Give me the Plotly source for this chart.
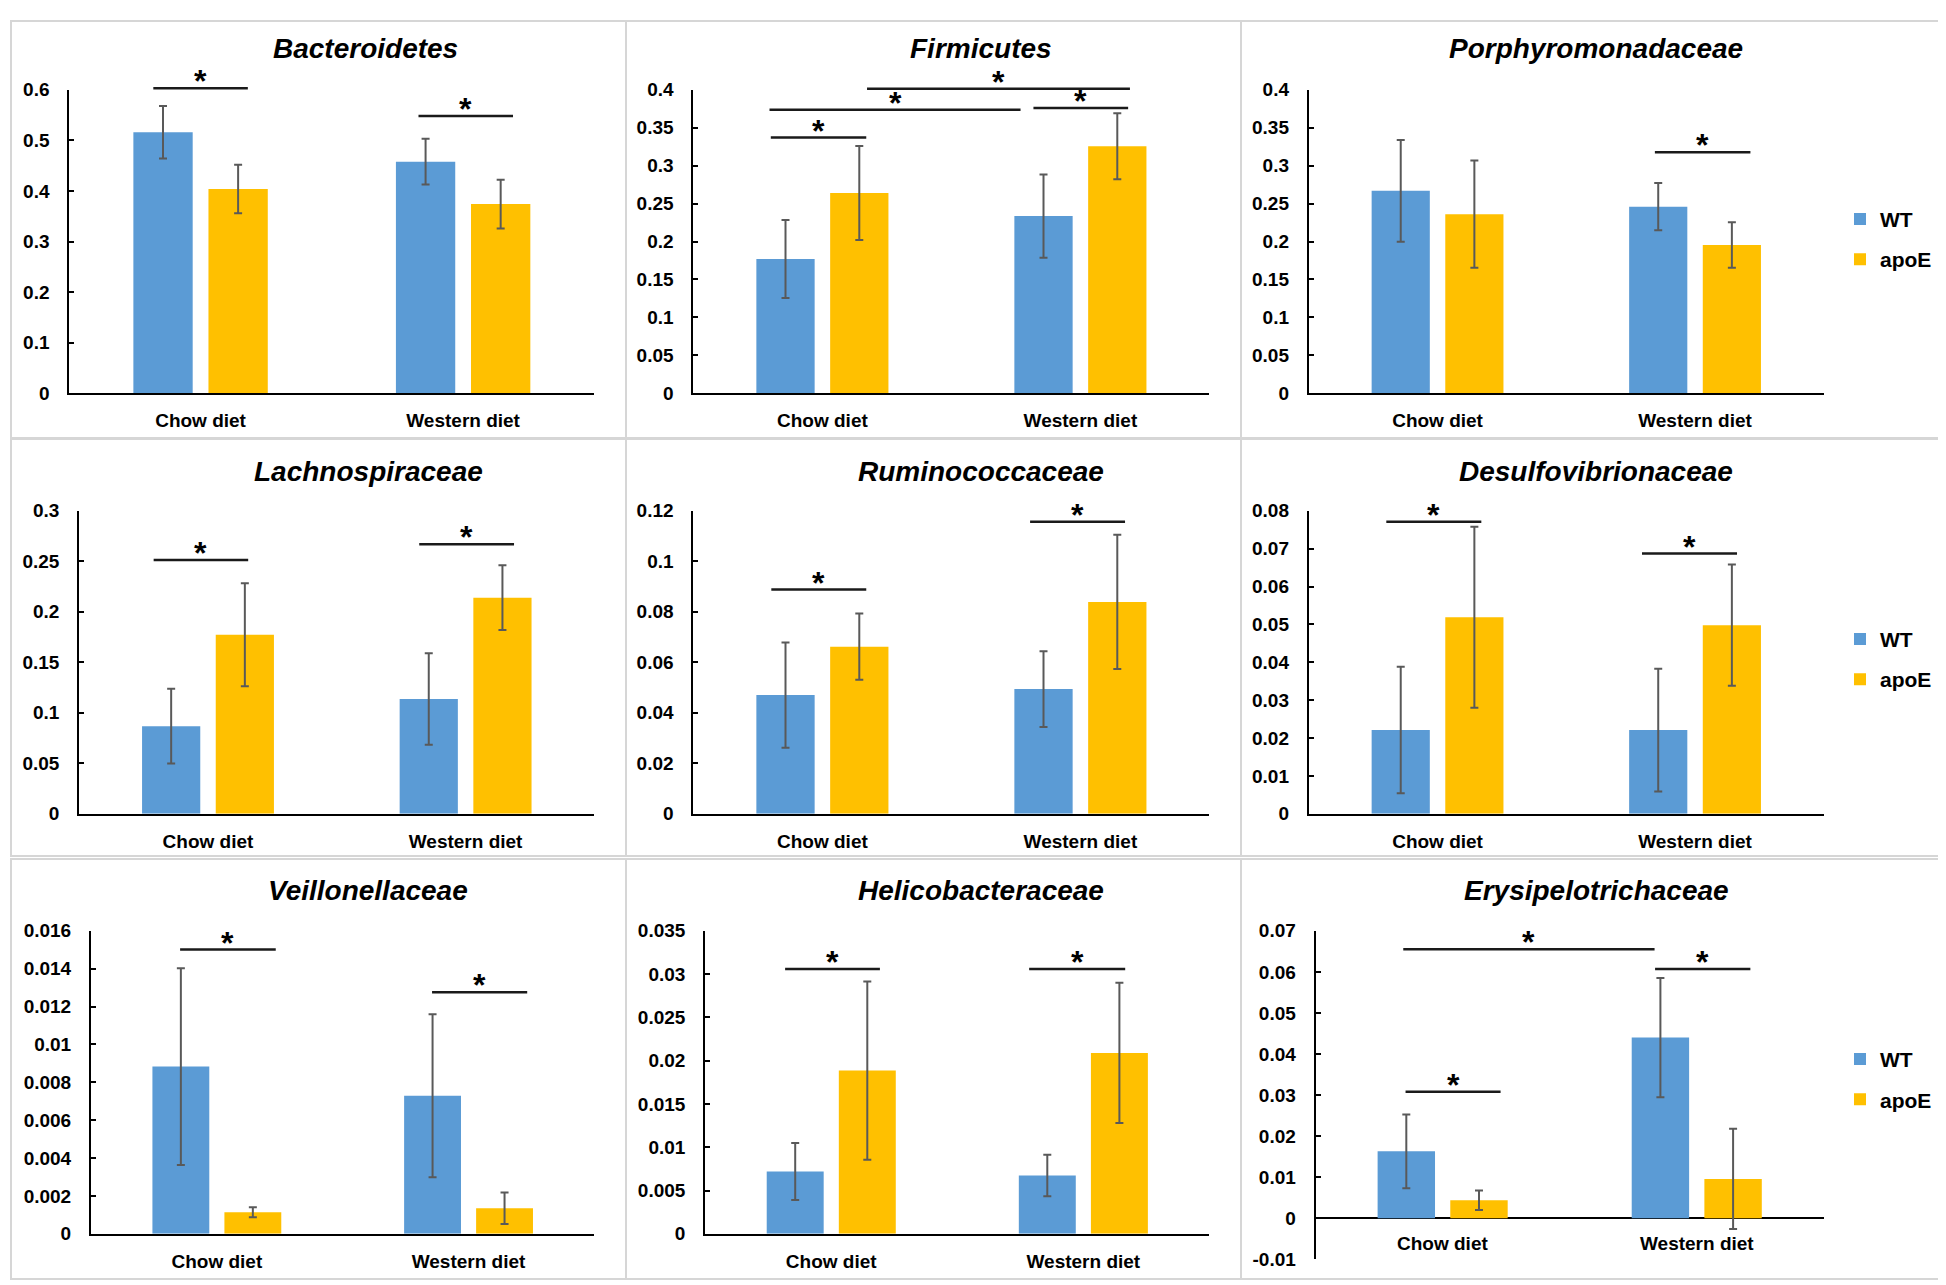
import plotly.graph_objects as go

# ---------------- data ----------------
categories = ["Chow diet", "Western diet"]
taxa = ["Bacteroidetes", "Firmicutes", "Porphyromonadaceae",
        "Lachnospiraceae", "Ruminococcaceae", "Desulfovibrionaceae",
        "Veillonellaceae", "Helicobacteraceae", "Erysipelotrichaceae"]

wt_mean = [[0.516, 0.458], [0.177, 0.2335], [0.2668, 0.246],
           [0.0867, 0.1136], [0.047, 0.0494], [0.0221, 0.0221],
           [0.00883, 0.00729], [0.0072, 0.00674], [0.0163, 0.044]]
wt_err = [[0.052, 0.045], [0.0515, 0.055], [0.067, 0.031],
          [0.037, 0.0453], [0.0208, 0.015], [0.0167, 0.0162],
          [0.0052, 0.0043], [0.0033, 0.0024], [0.009, 0.0145]]
apoe_mean = [[0.404, 0.374], [0.264, 0.3256], [0.236, 0.1955],
             [0.1773, 0.214], [0.0662, 0.0839], [0.0519, 0.0498],
             [0.00114, 0.00135], [0.01886, 0.0209], [0.0044, 0.0096]]
apoe_err = [[0.048, 0.048], [0.062, 0.0435], [0.0707, 0.030],
            [0.051, 0.032], [0.0131, 0.0266], [0.0239, 0.016],
            [0.00026, 0.00083], [0.0103, 0.0081], [0.0024, 0.0122]]

# y-axis scale per panel: (min, max, step)
y_scales = [(0, 0.6, 0.1), (0, 0.4, 0.05), (0, 0.4, 0.05),
            (0, 0.3, 0.05), (0, 0.12, 0.02), (0, 0.08, 0.01),
            (0, 0.016, 0.002), (0, 0.035, 0.005), (-0.01, 0.07, 0.01)]

# significance brackets per panel: (from category pos, to category pos, level)
sig_lines = [
    [(-0.18, 0.18, 0.603), (0.83, 1.19, 0.548)],
    [(-0.20, 0.17, 0.337), (-0.205, 0.768, 0.3736), (0.173, 1.192, 0.4013), (0.818, 1.185, 0.376)],
    [(0.844, 1.215, 0.3178)],
    [(-0.211, 0.156, 0.2513), (0.820, 1.188, 0.2669)],
    [(-0.198, 0.17, 0.0888), (0.805, 1.173, 0.1157)],
    [(-0.199, 0.170, 0.0771), (0.794, 1.163, 0.0687)],
    [(-0.146, 0.234, 0.01501), (0.855, 1.233, 0.01276)],
    [(-0.183, 0.193, 0.0306), (0.785, 1.166, 0.0306)],
    [(-0.146, 0.228, 0.0308), (-0.155, 0.834, 0.0655), (0.836, 1.211, 0.0607)],
]

# ---------------- layout geometry (pixels) ----------------
W, H = 1946, 1285
FONT = "Liberation Sans, Arial, sans-serif"
BLUE = "#5B9BD5"
GOLD = "#FFC000"
ERR = "#595959"
XR = (-0.5, 1.5)

x_px = [(61.3, 586.4), (685.4, 1201.4), (1300.8, 1815.8),
        (71.2, 586.4), (685.4, 1201.4), (1300.8, 1815.8),
        (83.0, 586.4), (697.2, 1201.4), (1307.6, 1815.8)]
y_px = [(73, 381.5), (73, 381.5), (73, 381.5),
        (501, 809), (501, 809), (501, 809),
        (928, 1236), (928, 1236), (928, 1262)]
title_pos = [(357.5, 31), (972.8, 31), (1588, 31),
             (360, 461), (972.8, 461), (1588, 461),
             (360, 887), (973, 887), (1588, 887)]
boxes = [(3, 3, 618, 427), (618, 3, 1233, 427), (1233, 3, 1942, 427),
         (3, 428, 618, 852), (618, 428, 1233, 852), (1233, 428, 1942, 852),
         (3, 855, 618, 1282), (618, 855, 1233, 1282), (1233, 855, 1942, 1282)]
legend_ids = {2: "legend", 5: "legend2", 8: "legend3"}
legend_y = {2: 225, 5: 652, 8: 1079}

fig = go.Figure()
layout = dict(width=W, height=H, margin=dict(l=0, r=0, t=0, b=0),
              paper_bgcolor="white", plot_bgcolor="white",
              barmode="group", bargap=0.428, bargroupgap=0.21,
              font=dict(family=FONT, color="black"))
shapes, annotations = [], []

for i, name in enumerate(taxa):
    ax = "" if i == 0 else str(i + 1)
    xa, ya = "x" + ax, "y" + ax
    show = i in legend_ids
    for lab, means, errs, col in (("WT", wt_mean[i], wt_err[i], BLUE),
                                  ("apoE", apoe_mean[i], apoe_err[i], GOLD)):
        fig.add_trace(go.Bar(
            x=[0, 1], y=means, name=lab, marker=dict(color=col, line=dict(width=0)),
            error_y=dict(type="data", array=errs, visible=True, color=ERR,
                         thickness=2, width=4),
            xaxis=xa, yaxis=ya, offsetgroup=lab, legendgroup=lab + str(i),
            showlegend=show, legend=legend_ids.get(i, "legend"),
        ))
    x0, x1 = x_px[i]
    yt, yb = y_px[i]
    xd = (x0 / W, x1 / W)
    yd = (1 - yb / H, 1 - yt / H)
    ymin, ymax, step = y_scales[i]
    n = int(round((ymax - ymin) / step))
    tv = [ymin + k * step for k in range(n + 1)]
    tt = ["%g" % round(v, 6) for v in tv]
    neg = ymin < 0
    layout["xaxis" + ax] = dict(
        domain=list(xd), range=list(XR), anchor=ya,
        tickvals=[0, 1], ticktext=categories, showticklabels=not neg,
        showline=not neg, linecolor="black", linewidth=2, ticks="",
        showgrid=False, zeroline=False, ticklabelstandoff=9,
        tickfont=dict(family=FONT, size=19, color="black", weight="bold"),
    )
    layout["yaxis" + ax] = dict(
        domain=list(yd), range=[ymin, ymax], anchor=xa,
        tickvals=tv, ticktext=tt, showline=True, linecolor="black", linewidth=2,
        ticks="inside", ticklen=5, tickwidth=2, tickcolor="black",
        showgrid=False, zeroline=neg, zerolinecolor="black", zerolinewidth=2,
        ticklabelstandoff=14,
        tickfont=dict(family=FONT, size=19, color="black", weight="bold"),
    )

    # data -> paper mapping (so brackets are not clipped at the axis top)
    def px_(v, xd=xd):
        return xd[0] + (v - XR[0]) / (XR[1] - XR[0]) * (xd[1] - xd[0])

    def py_(v, yd=yd, ymin=ymin, ymax=ymax):
        return yd[0] + (v - ymin) / (ymax - ymin) * (yd[1] - yd[0])

    if neg:
        for c, lab in enumerate(categories):
            annotations.append(dict(x=c, y=0, xref=xa, yref=ya, text=lab,
                                    showarrow=False, yanchor="middle", yshift=-25,
                                    font=dict(family=FONT, size=19, color="black", weight="bold")))
    # title
    tx, ty = title_pos[i]
    annotations.append(dict(x=tx / W, y=1 - ty / H, xref="paper", yref="paper",
                            text=name, showarrow=False, xanchor="center", yanchor="middle",
                            font=dict(family=FONT, size=28, color="black",
                                      weight="bold", style="italic")))
    # significance brackets
    for (a, b, lvl) in sig_lines[i]:
        shapes.append(dict(type="line", xref="paper", yref="paper",
                           x0=px_(a), x1=px_(b), y0=py_(lvl), y1=py_(lvl),
                           line=dict(color="#1a1a1a", width=2.5)))
        annotations.append(dict(x=px_((a + b) / 2), y=py_(lvl), xref="paper", yref="paper",
                                text="*", showarrow=False, xanchor="center", yanchor="bottom",
                                yshift=-13,
                                font=dict(family=FONT, size=32, color="black", weight="bold")))
    # panel frame
    bx0, by0, bx1, by1 = boxes[i]
    shapes.append(dict(type="rect", xref="paper", yref="paper",
                       x0=bx0 / W, x1=bx1 / W, y0=1 - by1 / H, y1=1 - by0 / H,
                       line=dict(color="#d6d6d6", width=2), layer="below"))

for i, lid in legend_ids.items():
    layout[lid] = dict(x=1832 / W, y=1 - legend_y[i] / H, xanchor="left", yanchor="middle",
                       bgcolor="rgba(0,0,0,0)", traceorder="grouped", tracegroupgap=10,
                       font=dict(family=FONT, size=21, color="black", weight="bold"))

layout["shapes"] = shapes
layout["annotations"] = annotations
fig.update_layout(**layout)
fig.write_html("out.html")
